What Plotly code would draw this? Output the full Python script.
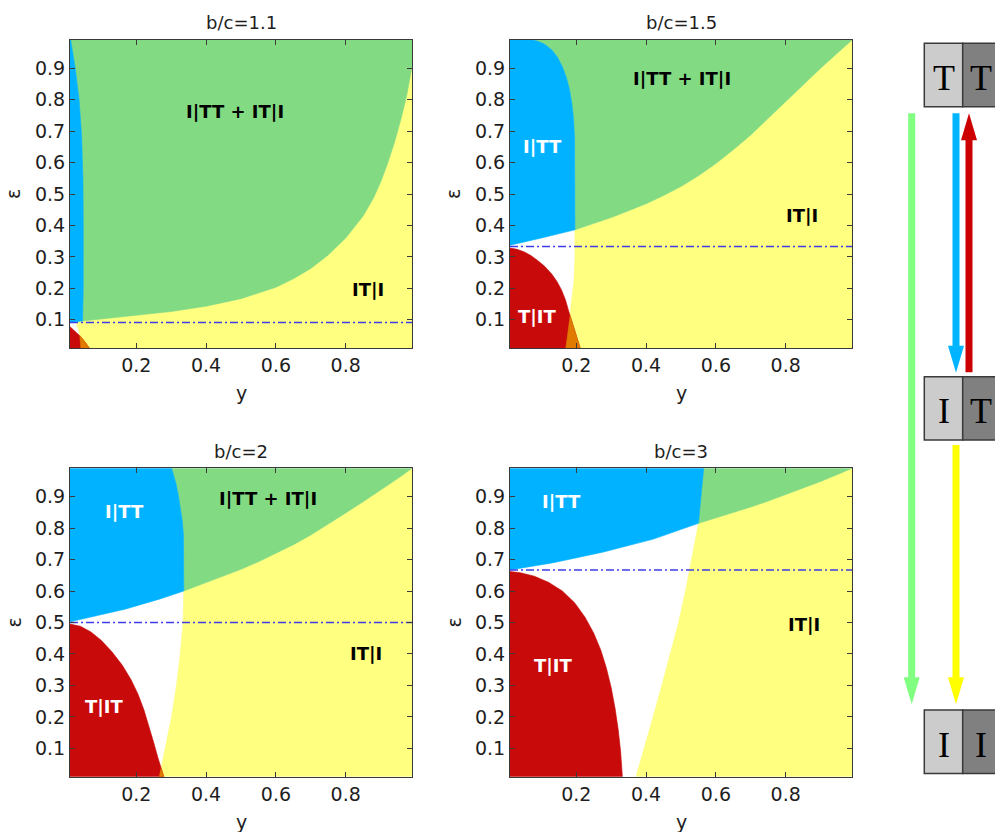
import numpy as np
import plotly.graph_objects as go

W, H = 995, 832

# ---------------- data ----------------
TITLES = ["b/c=1.1", "b/c=1.5", "b/c=2", "b/c=3"]
THRESH = [0.091, 0.333, 0.5, 0.667]
XTICKS = [0.2, 0.4, 0.6, 0.8]
YTICKS = [0.1, 0.2, 0.3, 0.4, 0.5, 0.6, 0.7, 0.8, 0.9]
LO, HI = 0.01, 0.99

# Panel 1 (b/c=1.1)
A1_x = [0.01, 0.025, 0.041, 0.055, 0.065]
A1_y = [0.078, 0.064, 0.046, 0.026, 0.01]
B1_x = [0.041, 0.040, 0.034, 0.028]
B1_y = [0.01, 0.04, 0.07, 0.091]
L1_x = [0.01, 0.046]
L1_y = [0.091, 0.096]
V1_x = [0.046, 0.048, 0.048, 0.047, 0.043, 0.036, 0.025, 0.018, 0.012]
V1_y = [0.096, 0.2, 0.4, 0.55, 0.69, 0.8, 0.9, 0.95, 0.99]
G1_x = [0.046, 0.1, 0.2, 0.3, 0.4, 0.5, 0.6, 0.65, 0.7, 0.75, 0.8, 0.85, 0.88, 0.9, 0.92, 0.94, 0.96, 0.975, 0.99]
G1_y = [0.096, 0.102, 0.113, 0.126, 0.143, 0.167, 0.203, 0.23, 0.263, 0.306, 0.36, 0.43, 0.488, 0.537, 0.597, 0.665, 0.745, 0.815, 0.905]

# Panel 2 (b/c=1.5)
A2_x = [0.01, 0.03, 0.05, 0.07, 0.09, 0.11, 0.13, 0.145, 0.158, 0.169, 0.178, 0.188, 0.199, 0.211]
A2_y = [0.328, 0.324, 0.316, 0.304, 0.288, 0.269, 0.245, 0.221, 0.194, 0.163, 0.128, 0.09, 0.05, 0.01]
B2_x = [0.17, 0.175, 0.181, 0.188, 0.193, 0.196, 0.196]
B2_y = [0.01, 0.055, 0.1, 0.16, 0.22, 0.3, 0.386]
L2_x = [0.01, 0.1, 0.196]
L2_y = [0.337, 0.36, 0.386]
V2_x = [0.196, 0.196, 0.195, 0.192, 0.187, 0.18, 0.171, 0.16, 0.146, 0.13, 0.11, 0.09, 0.075]
V2_y = [0.386, 0.6, 0.68, 0.74, 0.79, 0.835, 0.872, 0.905, 0.935, 0.958, 0.976, 0.986, 0.99]
G2_x = [0.196, 0.25, 0.3, 0.35, 0.4, 0.45, 0.5, 0.55, 0.6, 0.65, 0.7, 0.75, 0.8, 0.85, 0.9, 0.95, 0.99]
G2_y = [0.386, 0.405, 0.425, 0.447, 0.469, 0.495, 0.524, 0.558, 0.597, 0.641, 0.688, 0.741, 0.795, 0.848, 0.9, 0.95, 0.99]

# Panel 3 (b/c=2)
A3_x = [0.01, 0.04, 0.07, 0.1, 0.13, 0.16, 0.185, 0.205, 0.222, 0.237, 0.25, 0.262, 0.271, 0.279]
A3_y = [0.495, 0.488, 0.47, 0.443, 0.407, 0.364, 0.318, 0.272, 0.222, 0.17, 0.118, 0.07, 0.035, 0.01]
B3_x = [0.266, 0.283, 0.301, 0.315, 0.326, 0.334, 0.336]
B3_y = [0.01, 0.1, 0.2, 0.3, 0.4, 0.5, 0.6]
L3_x = [0.01, 0.17, 0.268, 0.336]
L3_y = [0.502, 0.543, 0.575, 0.6]
V3_x = [0.336, 0.336, 0.335, 0.332, 0.327, 0.321, 0.314, 0.306, 0.301]
V3_y = [0.6, 0.72, 0.78, 0.82, 0.86, 0.9, 0.94, 0.97, 0.99]
G3_x = [0.336, 0.4, 0.45, 0.5, 0.55, 0.6, 0.65, 0.7, 0.75, 0.8, 0.85, 0.9, 0.95, 0.99]
G3_y = [0.6, 0.626, 0.647, 0.669, 0.693, 0.719, 0.747, 0.778, 0.812, 0.848, 0.884, 0.92, 0.958, 0.99]

# Panel 4 (b/c=3)
A4_x = [0.01, 0.04, 0.08, 0.12, 0.16, 0.195, 0.225, 0.25, 0.27, 0.286, 0.3, 0.311, 0.32, 0.327, 0.332]
A4_y = [0.662, 0.658, 0.647, 0.628, 0.6, 0.563, 0.517, 0.466, 0.413, 0.356, 0.293, 0.228, 0.16, 0.09, 0.01]
B4_x = [0.371, 0.395, 0.42, 0.445, 0.47, 0.493, 0.513, 0.53, 0.542, 0.55]
B4_y = [0.01, 0.1, 0.2, 0.3, 0.4, 0.5, 0.6, 0.7, 0.77, 0.815]
L4_x = [0.01, 0.134, 0.278, 0.421, 0.55]
L4_y = [0.667, 0.69, 0.724, 0.765, 0.815]
V4_x = [0.55, 0.557, 0.565]
V4_y = [0.815, 0.9, 0.99]
G4_x = [0.55, 0.6, 0.65, 0.7, 0.75, 0.8, 0.85, 0.9, 0.95, 0.99]
G4_y = [0.815, 0.832, 0.849, 0.867, 0.886, 0.906, 0.927, 0.948, 0.971, 0.99]

# region labels: text, x, y, colour
LAB1_text = ["I|TT + IT|I", "IT|I"]
LAB1_x = [0.483, 0.865]
LAB1_y = [0.762, 0.195]
LAB1_c = ["black", "black"]
LAB2_text = ["I|TT + IT|I", "I|TT", "IT|I", "T|IT"]
LAB2_x = [0.504, 0.103, 0.848, 0.088]
LAB2_y = [0.868, 0.65, 0.433, 0.11]
LAB2_c = ["black", "white", "black", "white"]
LAB3_text = ["I|TT + IT|I", "I|TT", "IT|I", "T|IT"]
LAB3_x = [0.578, 0.165, 0.857, 0.108]
LAB3_y = [0.895, 0.852, 0.402, 0.232]
LAB3_c = ["black", "white", "black", "white"]
LAB4_text = ["I|TT", "IT|I", "T|IT"]
LAB4_x = [0.158, 0.852, 0.134]
LAB4_y = [0.884, 0.495, 0.363]
LAB4_c = ["white", "black", "white"]

# state diagram
STATE_LEFT = ["T", "I", "I"]
STATE_RIGHT = ["T", "T", "I"]

# ---------------- styling ----------------
C_GREEN = "#82da82"
C_BLUE = "#00b2ff"
C_YELLOW = "#ffff80"
C_RED = "#c80a0a"
C_ORANGE = "#e07b00"
FONT = "DejaVu Sans"
TXT = "#1e1e1e"

COL_PX = [(70, 412), (510, 852)]
ROW_PX = [(40, 348), (468.3, 776.7)]


def px2x(px):
    return px / W


def py2y(py):
    return 1 - py / H


def intersect(ax, ay, bx, by):
    for i in range(len(ax) - 1):
        p = np.array([ax[i], ay[i]])
        r = np.array([ax[i + 1] - ax[i], ay[i + 1] - ay[i]])
        for j in range(len(bx) - 1):
            q = np.array([bx[j], by[j]])
            s = np.array([bx[j + 1] - bx[j], by[j + 1] - by[j]])
            den = r[0] * s[1] - r[1] * s[0]
            if abs(den) < 1e-12:
                continue
            d = q - p
            t = (d[0] * s[1] - d[1] * s[0]) / den
            u = (d[0] * r[1] - d[1] * r[0]) / den
            if 0 <= t <= 1 and 0 <= u <= 1:
                return i, j, p + t * r
    return None


panels = [
    (A1_x, A1_y, B1_x, B1_y, L1_x, L1_y, V1_x, V1_y, G1_x, G1_y, LAB1_text, LAB1_x, LAB1_y, LAB1_c),
    (A2_x, A2_y, B2_x, B2_y, L2_x, L2_y, V2_x, V2_y, G2_x, G2_y, LAB2_text, LAB2_x, LAB2_y, LAB2_c),
    (A3_x, A3_y, B3_x, B3_y, L3_x, L3_y, V3_x, V3_y, G3_x, G3_y, LAB3_text, LAB3_x, LAB3_y, LAB3_c),
    (A4_x, A4_y, B4_x, B4_y, L4_x, L4_y, V4_x, V4_y, G4_x, G4_y, LAB4_text, LAB4_x, LAB4_y, LAB4_c),
]

fig = go.Figure()
annotations = []
shapes = []
layout_axes = {}


def poly(xs, ys, color, xa, ya):
    fig.add_trace(go.Scatter(x=xs, y=ys, fill="toself", fillcolor=color, mode="lines",
                             line=dict(color=color, width=0.6), hoverinfo="skip",
                             showlegend=False, xaxis=xa, yaxis=ya))


def paper_text(text, px, py, size, angle=0, family=FONT, color=TXT):
    annotations.append(dict(text=text, x=px2x(px), y=py2y(py), xref="paper", yref="paper",
                            xanchor="center", yanchor="middle", textangle=angle,
                            showarrow=False, font=dict(family=family, size=size, color=color)))


for k, (Ax, Ay, Bx, By, Lx, Ly, Vx, Vy, Gx, Gy, Lt, Lxx, Lyy, Lc) in enumerate(panels):
    sfx = "" if k == 0 else str(k + 1)
    xa, ya = "x" + sfx, "y" + sfx
    col, row = k % 2, k // 2
    x0p, x1p = COL_PX[col]
    y0p, y1p = ROW_PX[row]

    # yellow: right of B, below G
    poly(list(Bx) + list(Gx) + [HI], list(By) + list(Gy) + [LO], C_YELLOW, xa, ya)
    # green: above G, right of V
    poly(list(Gx) + [HI] + list(Vx)[::-1], list(Gy) + [HI] + list(Vy)[::-1], C_GREEN, xa, ya)
    # blue: left of V, above L
    poly(list(Vx) + [LO] + list(Lx), list(Vy) + [HI] + list(Ly), C_BLUE, xa, ya)
    # red: inside A
    poly([LO] + list(Ax) + [LO], [Ay[0]] + list(Ay) + [LO], C_RED, xa, ya)
    # orange: inside A and right of B
    hit = intersect(Ax, Ay, Bx, By)
    if hit is not None:
        i, j, K = hit
        ox = [K[0]] + list(Ax[i + 1:]) + list(Bx[:j + 1]) + [K[0]]
        oy = [K[1]] + list(Ay[i + 1:]) + list(By[:j + 1]) + [K[1]]
        poly(ox, oy, C_ORANGE, xa, ya)
    # threshold line
    fig.add_trace(go.Scatter(x=[LO, HI], y=[THRESH[k], THRESH[k]], mode="lines",
                             line=dict(color="#3c3ce8", width=1.5, dash="8px,3px,2px,3px"),
                             hoverinfo="skip", showlegend=False, xaxis=xa, yaxis=ya))

    axcommon = dict(range=[LO, HI], showgrid=False, zeroline=False, showline=True,
                    linecolor="#3a3a3a", linewidth=1, mirror="allticks", ticks="inside",
                    ticklen=5, tickwidth=1, tickcolor="#3a3a3a",
                    tickfont=dict(family=FONT, size=19, color=TXT))
    layout_axes["xaxis" + sfx] = dict(axcommon, domain=[px2x(x0p), px2x(x1p)], anchor=ya,
                                      tickvals=XTICKS, ticktext=[f"{v:g}" for v in XTICKS],
                                      ticklabelstandoff=0)
    layout_axes["yaxis" + sfx] = dict(axcommon, domain=[py2y(y1p), py2y(y0p)], anchor=xa,
                                      tickvals=YTICKS, ticktext=[f"{v:g}" for v in YTICKS],
                                      ticklabelstandoff=0)

    cx = (x0p + x1p) / 2
    paper_text(TITLES[k], cx, y0p - 17, 18)
    paper_text("y", cx, y1p + 45, 19)
    paper_text("ε", x0p - 57, (y0p + y1p) / 2, 19, angle=-90)
    for t, lx, ly, c in zip(Lt, Lxx, Lyy, Lc):
        annotations.append(dict(text="<b>" + t + "</b>", x=lx, y=ly, xref=xa, yref=ya, showarrow=False,
                                xanchor="center", yanchor="middle",
                                font=dict(family=FONT, size=18, color=c)))

# ---------------- state diagram on the right ----------------
BOX_L, BOX_M, BOX_R = 924.3, 962.7, 1001
BOX_TOPS = [43.3, 376.7, 710]
BOX_H = 63.4
for top, ltxt, rtxt in zip(BOX_TOPS, STATE_LEFT, STATE_RIGHT):
    shapes.append(dict(type="rect", xref="paper", yref="paper", x0=px2x(BOX_L), x1=px2x(BOX_M),
                       y0=py2y(top + BOX_H), y1=py2y(top), fillcolor="#cccccc",
                       line=dict(color="#3a3a3a", width=1.5)))
    shapes.append(dict(type="rect", xref="paper", yref="paper", x0=px2x(BOX_M), x1=px2x(BOX_R),
                       y0=py2y(top + BOX_H), y1=py2y(top), fillcolor="#808080",
                       line=dict(color="#3a3a3a", width=1.5)))
    paper_text(ltxt, (BOX_L + BOX_M) / 2, top + BOX_H / 2 + 3, 36, family="Liberation Serif", color="black")
    paper_text(rtxt, (BOX_M + BOX_R) / 2 - 0.5, top + BOX_H / 2 + 3, 36, family="Liberation Serif", color="black")

ARROWS = [  # x centre, start y, tip y, colour  (pixels)
    (911.7, 113.3, 704.3, "#80ff80"),
    (956.0, 113.3, 372.7, "#00b4ff"),
    (969.0, 372.3, 113.3, "#cc0000"),
    (956.0, 445.0, 704.3, "#ffff00"),
]
SHAFT_W, HEAD_W, HEAD_L = 7, 16, 27
for xc, ys, yt, c in ARROWS:
    d = 1 if yt > ys else -1
    base = yt - d * HEAD_L
    shapes.append(dict(type="rect", xref="paper", yref="paper", x0=px2x(xc - SHAFT_W / 2),
                       x1=px2x(xc + SHAFT_W / 2), y0=py2y(ys), y1=py2y(base + d * 0.5),
                       fillcolor=c, line=dict(width=0)))
    path = (f"M {px2x(xc - HEAD_W / 2)},{py2y(base)} L {px2x(xc + HEAD_W / 2)},{py2y(base)} "
            f"L {px2x(xc)},{py2y(yt)} Z")
    shapes.append(dict(type="path", xref="paper", yref="paper", path=path, fillcolor=c,
                       line=dict(width=0)))

fig.update_layout(width=W, height=H, autosize=False, margin=dict(l=0, r=0, t=0, b=0),
                  paper_bgcolor="white", plot_bgcolor="white", showlegend=False,
                  annotations=annotations, shapes=shapes, **layout_axes)

fig.write_html("out.html", config={"displayModeBar": False},
               post_script="document.body.style.margin='0';document.body.style.overflow='hidden';")
